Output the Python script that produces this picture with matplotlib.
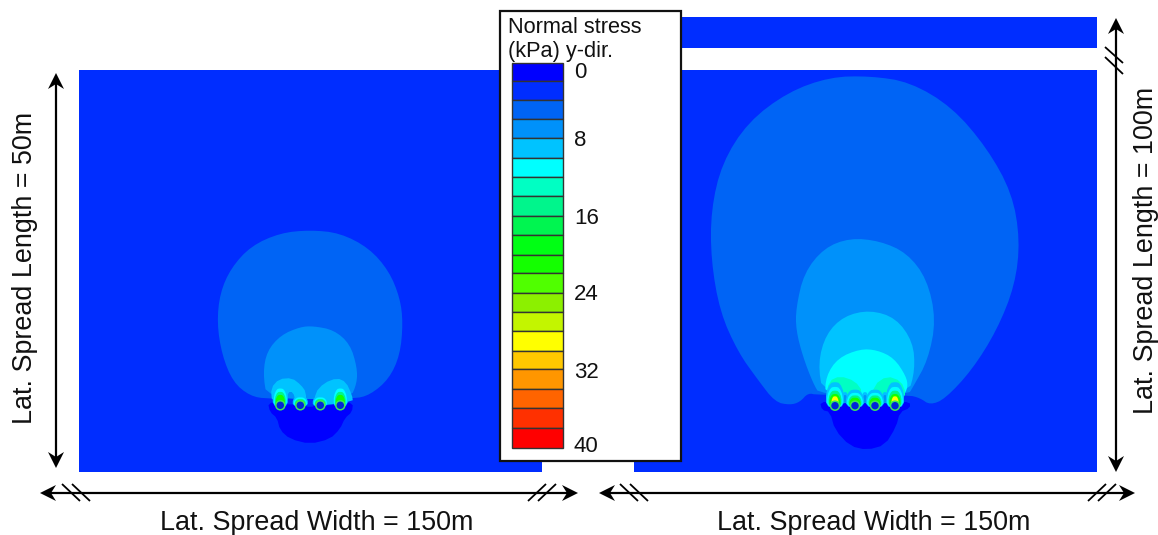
import matplotlib
matplotlib.use("Agg")
import matplotlib.pyplot as plt
from matplotlib.patches import Polygon, Rectangle, Circle
import numpy as np

plt.rcParams['font.family'] = ['Liberation Sans', 'DejaVu Sans']

# legenda
legend_title = "Normal stress\n(kPa) y-dir."
legend_ticks = ["0", "8", "16", "24", "32", "40"]
band_colors = ["#0000ff", "#002dff", "#0064f5", "#0091fa", "#00c3ff", "#00ffff",
               "#00ffc3", "#00f58c", "#00f550", "#00ff14", "#14ff00", "#50ff00",
               "#8cf000", "#c3f500", "#ffff00", "#ffc800", "#ff9600", "#ff6400",
               "#ff3000", "#ff0000"]
band_edges = [63, 81, 100, 119, 138, 158, 177, 196, 216, 235, 255, 273, 293, 312,
              331, 351, 369, 389, 408, 428, 448]
tick_rows = [72, 141, 218, 295, 372, 446]

# faixas: painel 50m
left_outer = [(268,399),(250,396),(233,382),(222,355),(217,323),(220,293),(231,268),
              (251,246),(280,233),(310,230),(340,233),(369,248),(389,271),(400,298),
              (403,323),(400,355),(389,379),(370,395),(353,399)]
left_mid = [(267,399),(263,373),(267,351),(281,335),(300,327),(313,326),(334,330),
            (350,344),(357,367),(357,383),(350,399)]
left_lobe_a = [(272,402),(271,388),(279,379),(292,378),(301,385),(306,392),(306,406),
               (296,402),(293,392),(288,392),(287,402)]
left_lobe_b = [(315,406),(315,393),(324,383),(337,378),(346,382),(352,395),(353,402)]
left_dark = [(268,403),(270,412),(277,418),(280,430),(290,439),(310,444),(330,439),
             (340,429),(345,418),(352,412),(353,403),(340,402),(330,406),(320,403),
             (310,408),(300,403),(290,405),(280,402)]

# faixas: painel 100m
right_outer = [(775,402),(790,405),(800,402),(808,393),(817,395),(908,395),(920,398),
               (930,405),(945,399),(972,370),(997,330),(1015,285),(1020,240),(1012,193),
               (987,148),(952,107),(910,82),(870,76),(830,77),(788,92),(748,122),
               (722,163),(711,210),(711,260),(720,312),(738,352),(758,380)]
right_mid = [(820,395),(813,383),(803,357),(796,330),(796,308),(804,273),(824,248),
             (850,238),(880,241),(907,253),(927,279),(936,320),(928,360),(913,387),(908,395)]
right_in = [(823,395),(818,363),(826,334),(844,316),(870,310),(896,318),(913,342),
            (915,370),(908,395)]
right_cyan = [(825,397),(826,376),(838,358),(860,349),(877,350),(894,358),(906,376),
              (908,387),(903,397)]
right_teal_a = [(826,398),(829,381),(840,376),(855,381),(863,392),(856,402)]
right_teal_b = [(872,402),(874,385),(887,376),(901,381),(906,393),(902,400)]
right_dark = [(820,402),(822,410),(830,412),(835,430),(850,446),(867,450),(885,445),
              (896,427),(900,412),(910,408),(910,402),(895,402),(885,404),(875,402),
              (865,404),(855,402),(845,404),(835,402)]

# poços: centros e altura da mancha acima de cada um
left_wells = [280.3, 300.3, 320.3, 340.3]
left_heights = [17, 8, 8, 17]
right_wells = [835, 855, 875, 895]
right_heights = [19, 13, 13, 19]
well_row_left = 405.3
well_row_right = 405.7


def smooth(points, n=2):
    # cantos arredondados (chaikin), sem mudar a forma geral
    pts = np.array(points, dtype=float)
    for _ in range(n):
        nxt = np.roll(pts, -1, axis=0)
        pts = np.column_stack([0.75*pts + 0.25*nxt, 0.25*pts + 0.75*nxt]).reshape(-1, 2)
    return pts


def fill(ax, points, color, z, n=2):
    ax.add_patch(Polygon(smooth(points, n), closed=True, fc=color, ec='none', zorder=z))


def arrow_head(ax, tip, dx, dy, z=10):
    # ponta preta com entalhe atrás
    tip = np.array(tip, dtype=float)
    d = np.array([dx, dy], dtype=float)
    n = np.array([-dy, dx], dtype=float)
    pts = [tip, tip - 16*d + 8*n, tip - 11*d, tip - 16*d - 8*n]
    ax.add_patch(Polygon(pts, closed=True, fc='black', ec='none', zorder=z))


def seg(ax, x0, y0, x1, y1, lw=1.6):
    ax.plot([x0, x1], [y0, y1], color='black', lw=lw, zorder=10, solid_capstyle='butt')


def drop(ax, cx, cy, h, w, color, z):
    # mancha em forma de gota sobre o poço
    pts = [(cx-w, cy), (cx-w, cy-h*0.55), (cx-w*0.55, cy-h*0.95), (cx, cy-h),
           (cx+w*0.55, cy-h*0.95), (cx+w, cy-h*0.55), (cx+w, cy), (cx, cy+w*0.3)]
    fill(ax, pts, color, z, 1)


def wells(ax, xs, row, heights, scale):
    for cx, h in zip(xs, heights):
        drop(ax, cx, row, h*1.25, 7.5*scale, band_colors[4], 5)
        drop(ax, cx, row, h*1.0, 6.5*scale, band_colors[5], 6)
        drop(ax, cx, row, h*0.8, 5.4*scale, band_colors[7], 7)
        drop(ax, cx, row, h*0.62, 4.6*scale, band_colors[10], 8)
        if h >= 17 and scale > 1:
            drop(ax, cx, row, h*0.5, 3.6, band_colors[14], 8.5)
        ax.add_patch(Circle((cx, row), 4.5, fc='#0028d8', ec='#3ce65a', lw=1.1, zorder=9))


fig = plt.figure(figsize=(11.58, 5.35), dpi=100)
ax = fig.add_axes([0, 0, 1, 1])
ax.set_xlim(0, 1158)
ax.set_ylim(535, 0)
ax.axis('off')

bg = band_colors[1]
ax.add_patch(Rectangle((79, 70), 463, 402, fc=bg, ec='none', zorder=1))
ax.add_patch(Rectangle((634, 70), 463, 402, fc=bg, ec='none', zorder=1))
ax.add_patch(Rectangle((681, 17), 416, 31, fc=bg, ec='none', zorder=1))

# painel 50m
fill(ax, left_outer, band_colors[2], 2)
fill(ax, left_mid, band_colors[3], 3)
fill(ax, left_lobe_a, band_colors[4], 4, 1)
fill(ax, left_lobe_b, band_colors[4], 4, 1)
fill(ax, left_dark, band_colors[0], 4.5, 1)
wells(ax, left_wells, well_row_left, left_heights, 1.0)

# painel 100m
fill(ax, right_outer, band_colors[2], 2)
fill(ax, right_mid, band_colors[3], 3)
fill(ax, right_in, band_colors[4], 3.5)
fill(ax, right_cyan, band_colors[5], 3.7)
fill(ax, right_teal_a, band_colors[6], 3.8, 1)
fill(ax, right_teal_b, band_colors[6], 3.8, 1)
for gap in [845, 865, 885]:
    drop(ax, gap, 402, 10, 3.2, band_colors[4], 4.2)
    drop(ax, gap, 402, 7, 2.2, band_colors[3], 4.3)
fill(ax, right_dark, band_colors[0], 4.5, 1)
wells(ax, right_wells, well_row_right, right_heights, 1.2)

# caixa da legenda
ax.add_patch(Rectangle((500, 11), 181, 450, fc='white', ec='#111111', lw=1.6, zorder=12))
ax.text(508, 17, legend_title, fontsize=15.7, va='top', ha='left', linespacing=1.2,
        zorder=13, color='#111111')
for i, col in enumerate(band_colors):
    ax.add_patch(Rectangle((512, band_edges[i]), 51, band_edges[i+1]-band_edges[i],
                           fc=col, ec='#333333', lw=1.0, zorder=13))
for lab, row in zip(legend_ticks, tick_rows):
    ax.text(574, row, lab, fontsize=16, va='center', ha='left', zorder=13, color='#111111')

# setas verticais
seg(ax, 56, 80, 56, 460)
arrow_head(ax, (56, 73), 0, -1)
arrow_head(ax, (56, 468), 0, 1)
seg(ax, 1116, 25, 1116, 465)
arrow_head(ax, (1116, 18), 0, -1)
arrow_head(ax, (1116, 472), 0, 1)
seg(ax, 1105, 47, 1123, 63, 1.3)
seg(ax, 1105, 57, 1123, 74, 1.3)

# setas horizontais
for x0, x1 in [(40, 578), (599, 1135)]:
    seg(ax, x0+8, 493, x1-8, 493)
    arrow_head(ax, (x0, 493), -1, 0)
    arrow_head(ax, (x1, 493), 1, 0)
for x in [62, 72, 620, 630]:
    seg(ax, x, 484, x+18, 501, 1.3)
for x in [528, 538, 1088, 1098]:
    seg(ax, x, 501, x+18, 484, 1.3)

ax.text(317, 523, "Lat. Spread Width = 150m", fontsize=19.4, ha='center', va='center', color='#111111')
ax.text(874, 523, "Lat. Spread Width = 150m", fontsize=19.4, ha='center', va='center', color='#111111')
ax.text(25, 268, "Lat. Spread Length = 50m", fontsize=19.4, rotation=90, ha='center', va='center', color='#111111')
ax.text(1146, 250, "Lat. Spread Length = 100m", fontsize=19.4, rotation=90, ha='center', va='center', color='#111111')

fig.savefig("out.png", dpi=100)
